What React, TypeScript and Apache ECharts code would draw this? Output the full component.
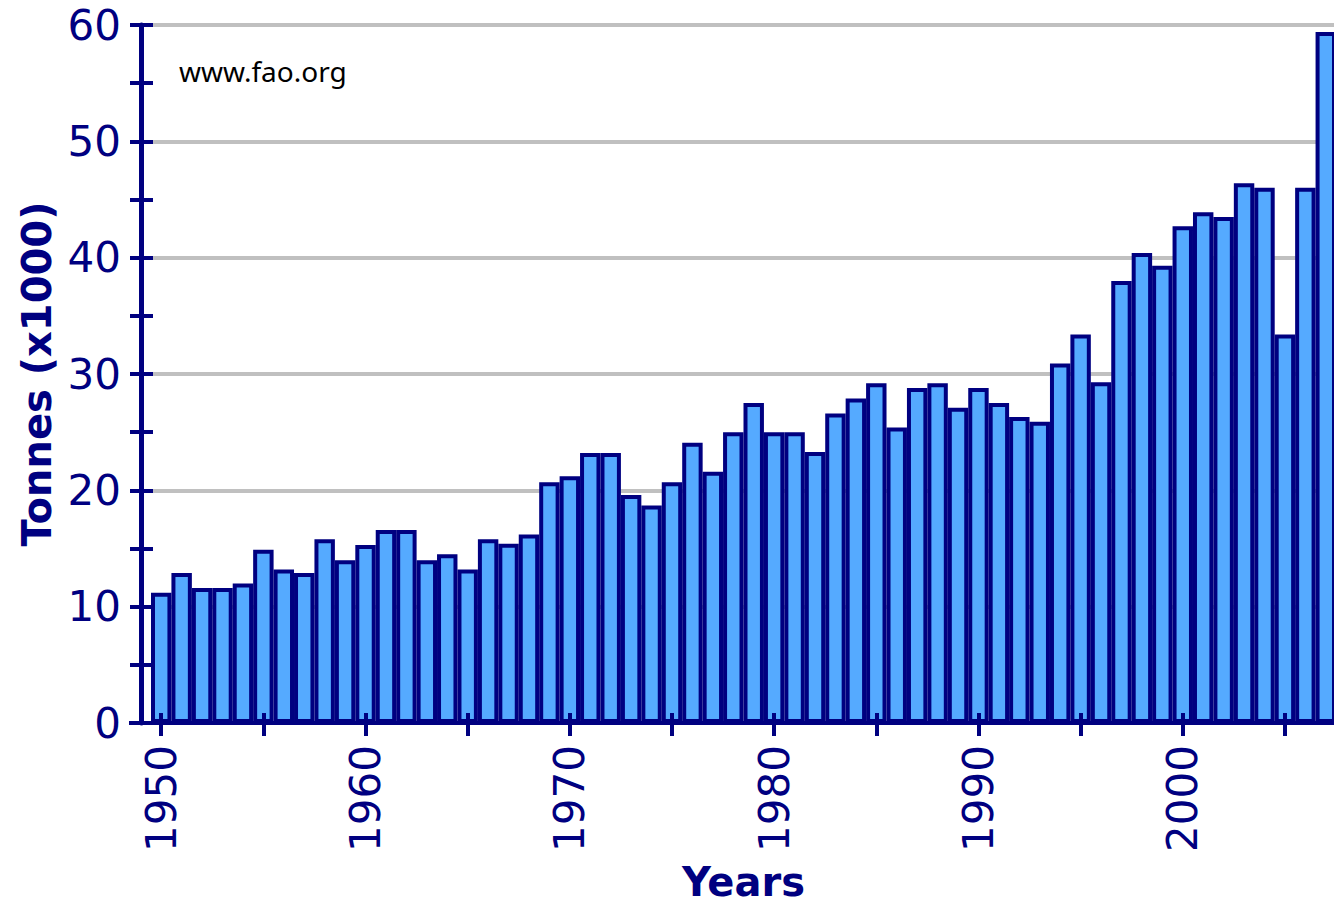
import React, { useEffect, useRef } from 'react';
import * as echarts from 'echarts';

const years: string[] = [
  '1950', '1951', '1952', '1953', '1954', '1955', '1956', '1957', '1958', '1959',
  '1960', '1961', '1962', '1963', '1964', '1965', '1966', '1967', '1968', '1969',
  '1970', '1971', '1972', '1973', '1974', '1975', '1976', '1977', '1978', '1979',
  '1980', '1981', '1982', '1983', '1984', '1985', '1986', '1987', '1988', '1989',
  '1990', '1991', '1992', '1993', '1994', '1995', '1996', '1997', '1998', '1999',
  '2000', '2001', '2002', '2003', '2004', '2005', '2006', '2007',
];

const tonnes: number[] = [
  11.2, 12.9, 11.6, 11.6, 12.0, 14.9, 13.2, 12.9, 15.8, 14.0,
  15.3, 16.6, 16.6, 14.0, 14.5, 13.2, 15.8, 15.4, 16.2, 20.7,
  21.2, 23.2, 23.2, 19.6, 18.7, 20.7, 24.1, 21.6, 25.0, 27.5,
  25.0, 25.0, 23.3, 26.6, 27.9, 29.2, 25.4, 28.8, 29.2, 27.1,
  28.8, 27.5, 26.3, 25.9, 30.9, 33.4, 29.3, 38.0, 40.4, 39.3,
  42.7, 43.9, 43.5, 46.4, 46.0, 33.4, 46.0, 59.4,
];

const yMin = 0;
const yMax = 60;
const yStep = 10;

const yAxisTitle = 'Tonnes (x1000)';
const xAxisTitle = 'Years';
const sourceNote = 'www.fao.org';

export default function App() {
  const ref = useRef<HTMLDivElement>(null);

  useEffect(() => {
    if (!ref.current) return;
    const chart = echarts.init(ref.current, null, { renderer: 'svg' });
    const navy = '#000080';
    const tickStyle = { color: navy, width: 4 };
    const labelFont = { color: navy, fontFamily: 'DejaVu Sans', fontSize: 42 };
    const titleFont = { color: navy, fontFamily: 'DejaVu Sans', fontWeight: 'bold' as const, fontSize: 40, lineHeight: 38 };

    chart.setOption({
      animation: false,
      backgroundColor: '#ffffff',
      grid: { left: 151, width: 1185, top: 25, bottom: 181, containLabel: false, outerBoundsMode: 'none' },
      xAxis: [
        {
          type: 'category',
          position: 'bottom',
          data: years,
          boundaryGap: true,
          z: 3,
          axisLine: { show: true, lineStyle: { color: navy, width: 4 } },
          axisTick: {
            show: true,
            alignWithLabel: true,
            interval: (i: number) => i % 5 === 0,
            length: 13,
            lineStyle: tickStyle,
          },
          axisLabel: {
            interval: (i: number) => i % 10 === 0,
            rotate: 90,
            margin: 22,
            ...labelFont,
          },
          splitLine: { show: false },
          name: xAxisTitle,
          nameLocation: 'middle',
          nameGap: 140,
          nameTextStyle: titleFont,
        },
        {
          type: 'category',
          position: 'bottom',
          data: years,
          boundaryGap: true,
          z: 3,
          axisLine: { show: false },
          axisTick: {
            show: true,
            inside: true,
            alignWithLabel: true,
            interval: (i: number) => i % 5 === 0,
            length: 10,
            lineStyle: tickStyle,
          },
          axisLabel: { show: false },
          splitLine: { show: false },
        },
      ],
      yAxis: [
        {
          type: 'value',
          position: 'left',
          offset: 10,
          min: yMin,
          max: yMax,
          interval: yStep,
          axisLine: { show: false },
          axisTick: { show: true, length: 11, lineStyle: tickStyle },
          minorTick: { show: true, splitNumber: 2, length: 11, lineStyle: tickStyle },
          splitLine: { show: true, lineStyle: { color: '#C0C0C0', width: 4 } },
          minorSplitLine: { show: false },
          axisLabel: { margin: 20, ...labelFont },
          name: yAxisTitle,
          nameLocation: 'middle',
          nameRotate: 90,
          nameGap: 84,
          nameTextStyle: titleFont,
        },
        {
          type: 'value',
          position: 'left',
          offset: 10,
          min: yMin,
          max: yMax,
          interval: yStep,
          z: 3,
          axisLine: { show: true, lineStyle: { color: navy, width: 5 } },
          axisTick: { show: true, inside: true, length: 12, lineStyle: tickStyle },
          minorTick: { show: true, splitNumber: 2, length: 12, lineStyle: tickStyle },
          splitLine: { show: false },
          axisLabel: { show: false },
        },
      ],
      series: [
        {
          type: 'bar',
          xAxisIndex: 0,
          yAxisIndex: 0,
          data: tonnes,
          barCategoryGap: '0%',
          z: 2,
          itemStyle: { color: '#55AAFF', borderColor: navy, borderWidth: 4 },
        },
      ],
      graphic: [
        {
          type: 'line',
          shape: { x1: 129, y1: 723, x2: 152, y2: 723 },
          style: { stroke: navy, lineWidth: 4 },
          z: 10,
        },
        {
          type: 'text',
          left: 179,
          top: 57,
          style: {
            text: sourceNote,
            fill: '#000000',
            font: '28px "Noto Sans"',
          },
          z: 10,
        },
      ],
    });

    return () => chart.dispose();
  }, []);

  return (
    <div
      ref={ref}
      style={{ position: 'absolute', left: 0, top: 0, width: 1334, height: 904 }}
    />
  );
}
